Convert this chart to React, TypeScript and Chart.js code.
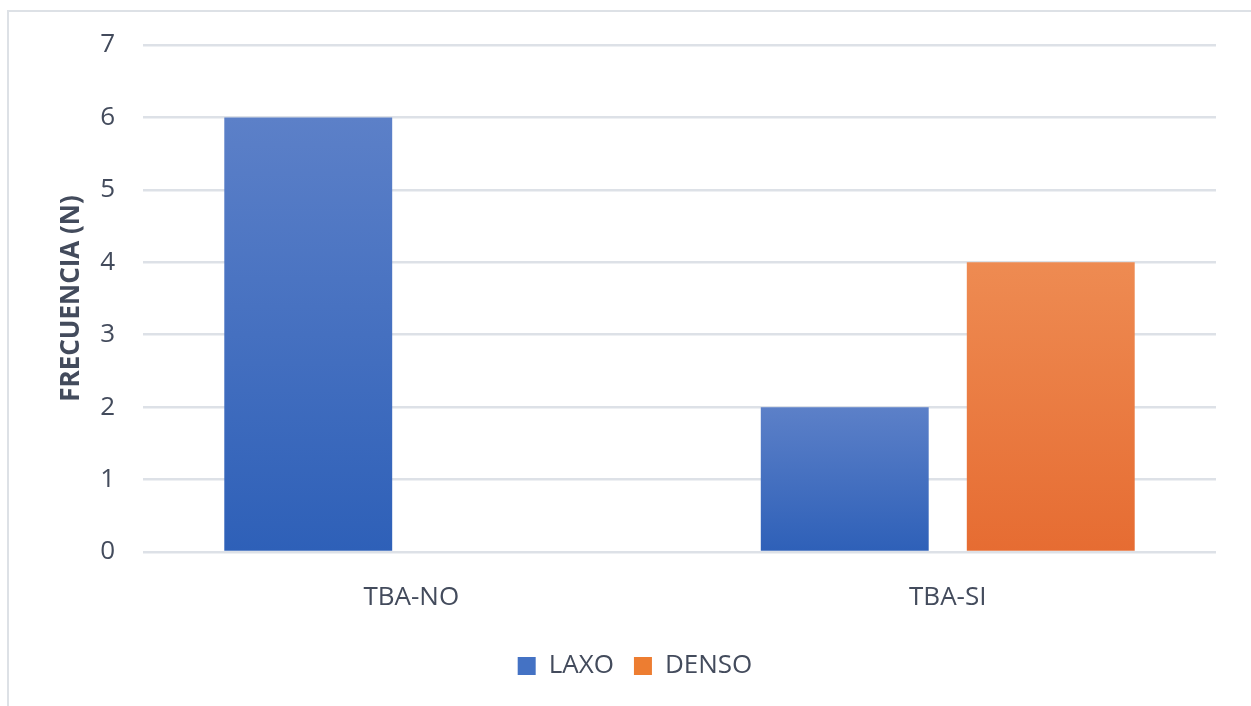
import React, { useEffect, useRef } from "react";
import { Chart, registerables } from "chart.js";

Chart.register(...registerables);

const categories = ["TBA-NO", "TBA-SI"];
const laxoValues = [6, 2];
const densoValues = [0, 4];
const seriesNames = ["LAXO", "DENSO"];
const yTicks = [0, 1, 2, 3, 4, 5, 6, 7];

const TEXT = "#434b5c";
const FONT = "'Open Sans', 'Noto Sans', sans-serif";

function makeGradient(ctx: any, top: string, bottom: string) {
  const chart = ctx.chart;
  const area = chart.chartArea;
  if (!area) return bottom;
  const y = chart.scales.y;
  const v = ctx.raw as number;
  const yTop = y.getPixelForValue(v);
  const yBot = y.getPixelForValue(0);
  if (!isFinite(yTop) || !isFinite(yBot) || yTop === yBot) return bottom;
  const g = chart.ctx.createLinearGradient(0, yTop, 0, yBot);
  g.addColorStop(0, top);
  g.addColorStop(1, bottom);
  return g;
}

export default function App() {
  const ref = useRef<HTMLCanvasElement | null>(null);
  useEffect(() => {
    document.body.style.margin = "0";
    document.body.style.overflow = "hidden";
    const canvas = ref.current!;
    const chart = new Chart(canvas, {
      type: "bar",
      data: {
        labels: categories,
        datasets: [
          {
            label: seriesNames[0],
            data: laxoValues,
            backgroundColor: (c: any) => makeGradient(c, "#5c80c8", "#2e60b8"),
            borderWidth: 0,
            categoryPercentage: 0.768,
            barPercentage: 0.815,
          },
          {
            label: seriesNames[1],
            data: densoValues,
            backgroundColor: (c: any) => makeGradient(c, "#ee8b52", "#e66c32"),
            borderWidth: 0,
            categoryPercentage: 0.768,
            barPercentage: 0.815,
          },
        ],
      },
      options: {
        animation: false,
        responsive: false,
        maintainAspectRatio: false,
        layout: { padding: { left: 54, right: 35, top: 45, bottom: 17 } },
        plugins: {
          tooltip: { enabled: false },
          legend: {
            position: "bottom",
            labels: {
              font: { family: FONT, size: 26 },
              color: TEXT,
              boxWidth: 18,
              boxHeight: 18,
              padding: 20,
              generateLabels: () => [
                { text: seriesNames[0], fillStyle: "#4472c4", strokeStyle: "#4472c4", lineWidth: 0, datasetIndex: 0, fontColor: TEXT },
                { text: seriesNames[1], fillStyle: "#ed7d31", strokeStyle: "#ed7d31", lineWidth: 0, datasetIndex: 1, fontColor: TEXT },
              ] as any,
            },
          },
        },
        scales: {
          x: {
            grid: { display: false },
            border: { display: false },
            ticks: {
              font: { family: FONT, size: 26 },
              color: TEXT,
              padding: 22,
            },
            afterFit: (s: any) => {
              s.height = 81;
            },
          },
          y: {
            min: 0,
            max: 7,
            afterBuildTicks: (s: any) => {
              s.ticks = yTicks.map((v) => ({ value: v }));
            },
            grid: { color: "#dde1e7", lineWidth: 2.5, drawTicks: false },
            border: { display: false },
            ticks: {
              font: { family: FONT, size: 26 },
              color: TEXT,
              padding: 28,
            },
            title: {
              display: true,
              text: "FRECUENCIA (N)",
              font: { family: FONT, size: 26, weight: "bold" },
              color: TEXT,
              padding: { top: 2, bottom: 0 },
            },
            afterFit: (s: any) => {
              s.width = 89;
            },
          },
        },
      },
    });
    return () => chart.destroy();
  }, []);
  return (
    <div style={{ position: "fixed", left: 0, top: 0, width: 1251, height: 706, overflow: "hidden", background: "#fff" }}>
      <canvas ref={ref} width={1251} height={706} style={{ position: "absolute", left: 0, top: 0, width: 1251, height: 706 }} />
      <div
        style={{
          position: "absolute",
          left: 7,
          top: 10,
          width: 1270,
          height: 720,
          border: "2px solid #dde1e6",
          pointerEvents: "none",
        }}
      />
    </div>
  );
}
